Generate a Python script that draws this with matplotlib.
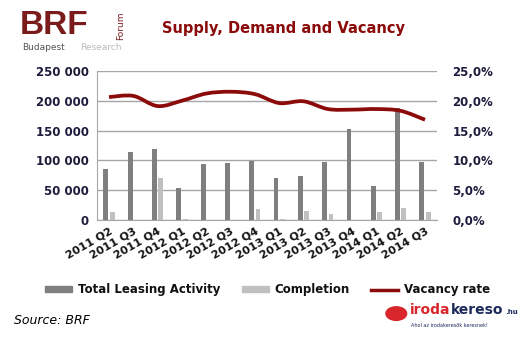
import matplotlib.pyplot as plt
import numpy as np
from matplotlib.path import Path
from matplotlib.patches import PathPatch, Circle, Patch
from matplotlib.lines import Line2D

quarters = ['2011 Q2', '2011 Q3', '2011 Q4', '2012 Q1', '2012 Q2', '2012 Q3', '2012 Q4',
            '2013 Q1', '2013 Q2', '2013 Q3', '2013 Q4', '2014 Q1', '2014 Q2', '2014 Q3']
leasing = [85000, 114000, 119000, 54000, 94000, 95000, 99000,
           70000, 74000, 97000, 152000, 57000, 187000, 97000]
completion = [14000, 0, 70000, 1500, 0, 0, 19000,
              1500, 15000, 10000, 0, 13500, 20500, 13500]
vacancy = [20.6, 20.8, 19.1, 20.0, 21.2, 21.5, 21.1,
           19.6, 19.9, 18.6, 18.5, 18.6, 18.3, 16.8]

DARK = '#7f7f7f'
LIGHT = '#c0c0c0'
RED = '#8b0a0a'
TICK = '#1c1c3c'

fig = plt.figure(figsize=(5.18, 3.39), dpi=100)
ax = fig.add_axes([0.187, 0.351, 0.657, 0.44])
x = np.arange(len(quarters))
w = 0.2
ax.bar(x - 0.13, leasing, w, color=DARK, zorder=3)
ax.bar(x + 0.13, completion, w, color=LIGHT, zorder=3)
ax.set_xlim(-0.5, len(quarters) - 0.5)
ax.set_ylim(0, 250000)
ax.set_yticks(np.arange(0, 250001, 50000))
ax.set_yticklabels(['0' if v == 0 else '{:,}'.format(v).replace(',', ' ') for v in range(0, 250001, 50000)])
ax.grid(axis='y', color='#a6a6a6', linewidth=1, zorder=0)
ax.set_xticks(x)
ax.set_xticklabels(quarters, rotation=30, ha='right', rotation_mode='anchor', fontsize=8)
ax.tick_params(axis='y', length=0, labelsize=8.5, colors=TICK, pad=6)
ax.tick_params(axis='x', length=0, pad=4, colors='#111111')
for lab in ax.get_xticklabels() + ax.get_yticklabels():
    lab.set_fontweight('bold')
for s in ['top', 'right']:
    ax.spines[s].set_visible(False)
ax.spines['left'].set_color('#a6a6a6')
ax.spines['bottom'].set_color('#a6a6a6')

ax2 = ax.twinx()
ax2.set_ylim(0, 25)
ax2.set_yticks(np.arange(0, 26, 5))
ax2.set_yticklabels(['{:.1f}%'.format(v).replace('.', ',') for v in range(0, 26, 5)])
ax2.tick_params(axis='y', length=0, labelsize=8.5, colors=TICK, pad=11)
for lab in ax2.get_yticklabels():
    lab.set_fontweight('bold')
for s in ax2.spines.values():
    s.set_visible(False)

# smooth vacancy curve (Catmull-Rom as cubic Bezier)
px = list(x.astype(float))
py = list(vacancy)
verts = [(px[0], py[0])]
codes = [Path.MOVETO]
n = len(px)
for i in range(n - 1):
    p0 = (px[max(i - 1, 0)], py[max(i - 1, 0)])
    p1 = (px[i], py[i])
    p2 = (px[i + 1], py[i + 1])
    p3 = (px[min(i + 2, n - 1)], py[min(i + 2, n - 1)])
    c1 = (p1[0] + (p2[0] - p0[0]) / 6, p1[1] + (p2[1] - p0[1]) / 6)
    c2 = (p2[0] - (p3[0] - p1[0]) / 6, p2[1] - (p3[1] - p1[1]) / 6)
    verts += [c1, c2, p2]
    codes += [Path.CURVE4] * 3
ax2.add_patch(PathPatch(Path(verts, codes), fill=False, edgecolor=RED, lw=2.7, zorder=4))

# title and logos
fig.text(0.312, 0.915, 'Supply, Demand and Vacancy', color='#8b0a0a', fontsize=10.5,
         fontweight='bold', va='center')
fig.text(0.038, 0.925, 'BRF', color='#7a1c1c', fontsize=24, va='center', fontweight='bold',
         family='Liberation Sans')
fig.text(0.232, 0.925, 'Forum', color='#7a1c1c', fontsize=6.5, rotation=90, va='center', ha='center')
fig.text(0.042, 0.86, 'Budapest', color='#555555', fontsize=6.5, va='center')
fig.text(0.155, 0.86, 'Research', color='#bbbbbb', fontsize=6.5, va='center')

handles = [Patch(color=DARK), Patch(color=LIGHT), Line2D([], [], color=RED, lw=2.5)]
leg = fig.legend(handles, ['Total Leasing Activity', 'Completion', 'Vacancy rate'],
                 loc='center', bbox_to_anchor=(0.517, 0.145), ncol=3, frameon=False,
                 handlelength=2.3, handleheight=0.35, columnspacing=1.8, handletextpad=0.5,
                 prop={'weight': 'bold', 'size': 8.5})
for t in leg.get_texts():
    t.set_color('#111111')

fig.text(0.027, 0.055, 'Source: BRF', fontsize=9, style='italic', va='center')

fig.patches.append(Circle((0.765, 0.075), 0.02, transform=fig.transFigure, color='#d8262c'))
fig.text(0.792, 0.085, 'iroda', color='#d8262c', fontsize=10, fontweight='bold', va='center')
fig.text(0.870, 0.085, 'kereso', color='#1d2a5a', fontsize=10, fontweight='bold', va='center')
fig.text(0.975, 0.08, '.hu', color='#1d2a5a', fontsize=5, fontweight='bold', va='center')
fig.text(0.794, 0.04, 'Ahol az irodakeresők keresnek!', color='#1d2a5a', fontsize=3.5, va='center')

fig.savefig('out.png', dpi=100, facecolor='white')
